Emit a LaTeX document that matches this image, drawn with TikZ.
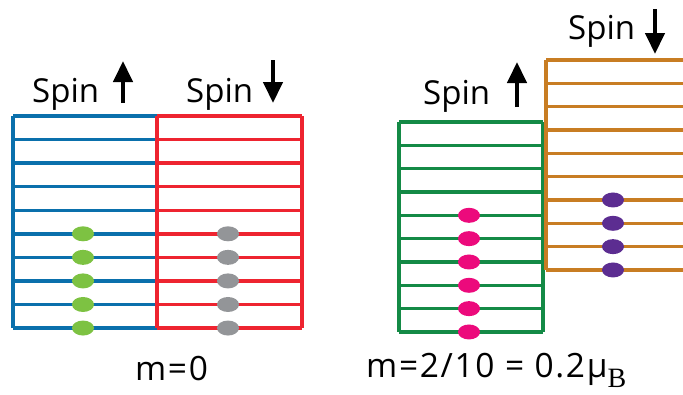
\documentclass[tikz,border=0pt]{standalone}
\usepackage{fontspec}
\setmainfont{Open Sans}
\newfontfamily\subfnt{Liberation Serif}
\usetikzlibrary{arrows.meta,shapes.geometric}
\definecolor{cblue}{RGB}{10,112,172}
\definecolor{cred}{RGB}{238,36,48}
\definecolor{cgreen}{RGB}{20,138,70}
\definecolor{corange}{RGB}{200,125,35}
\definecolor{dgreen}{RGB}{125,194,66}
\definecolor{dgray}{RGB}{147,149,152}
\definecolor{dpink}{RGB}{236,10,124}
\definecolor{dpurple}{RGB}{92,45,145}
\tikzset{
  band/.style={line width=3.4pt},
  lbl/.style={font=\fontsize{33}{36}\selectfont, inner sep=0pt, anchor=base west},
  mlbl/.style={font=\fontsize{33.5}{36}\selectfont\addfontfeature{LetterSpace=5}, inner sep=0pt, anchor=base west},
  spinarrow/.style={line width=4.2pt, -{Triangle[width=19pt,length=21pt]}},
  dot/.style={inner sep=0pt, minimum width=22pt, minimum height=15pt, ellipse}
}
\begin{document}
\begin{tikzpicture}[x=1pt,y=-1pt]
\useasboundingbox (0,0) rectangle (683,394);
% left: spin up (blue)
\foreach \i in {0,...,9} { \draw[band,cblue] (13,{116+\i*23.56}) -- (157,{116+\i*23.56}); }
\draw[band,cblue] (13,116) -- (13,328);
% left: spin down (red)
\foreach \i in {0,...,9} { \draw[band,cred] (157,{116+\i*23.56}) -- (302,{116+\i*23.56}); }
\draw[band,cred] (157,116) -- (157,328);
\draw[band,cred] (302,116) -- (302,328);
\foreach \i in {5,...,9} {
  \node[dot,fill=dgreen] at (83,{116+\i*23.56}) {};
  \node[dot,fill=dgray] at (228,{116+\i*23.56}) {};
}
% right: spin up (green)
\foreach \i in {0,...,9} { \draw[band,cgreen] (399,{122+\i*23.33}) -- (543,{122+\i*23.33}); }
\draw[band,cgreen] (399,122) -- (399,332);
\draw[band,cgreen] (543,122) -- (543,332);
% right: spin down (orange)
\foreach \i in {0,...,9} { \draw[band,corange] (546,{60+\i*23.33}) -- (683,{60+\i*23.33}); }
\draw[band,corange] (546,60) -- (546,270);
\foreach \i in {4,...,9} { \node[dot,fill=dpink] at (469,{122+\i*23.33}) {}; }
\foreach \i in {6,...,9} { \node[dot,fill=dpurple] at (613,{60+\i*23.33}) {}; }
% labels
\node[lbl] (s1) at (32,102) {Spin};
\coordinate (a1b) at (123,103); \coordinate (a1t) at (123,61);
\draw[spinarrow] (a1b) -- (a1t);
\node[lbl] (s2) at (186,102) {Spin};
\coordinate (a2t) at (273,60); \coordinate (a2b) at (273,103);
\draw[spinarrow] (a2t) -- (a2b);
\node[lbl] (s3) at (423,104) {Spin};
\coordinate (a3b) at (517,107); \coordinate (a3t) at (517,62);
\draw[spinarrow] (a3b) -- (a3t);
\node[lbl] (s4) at (568,39) {Spin};
\coordinate (a4t) at (655,9); \coordinate (a4b) at (655,54);
\draw[spinarrow] (a4t) -- (a4b);
\node[mlbl] (m0) at (135,380) {m=0};
\node[mlbl] (m1) at (366,377) {m=2/10 = 0.2μ\raisebox{-10pt}{\subfnt\fontsize{28}{30}\selectfont B}};
\end{tikzpicture}
\end{document}
